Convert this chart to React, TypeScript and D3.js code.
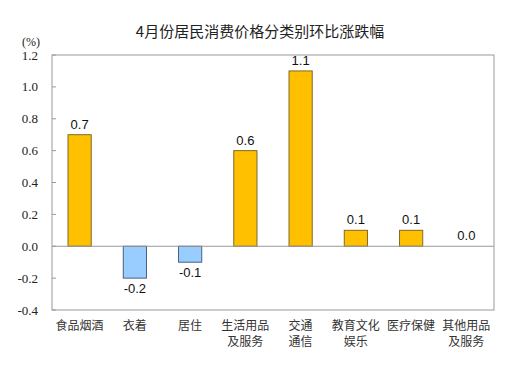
import React from "react";
import * as d3 from "d3";

const categories = ["食品烟酒", "衣着", "居住", "生活用品及服务", "交通通信", "教育文化娱乐", "医疗保健", "其他用品及服务"];
const categoryLines = [["食品烟酒"], ["衣着"], ["居住"], ["生活用品", "及服务"], ["交通", "通信"], ["教育文化", "娱乐"], ["医疗保健"], ["其他用品", "及服务"]];
const values = [0.7, -0.2, -0.1, 0.6, 1.1, 0.1, 0.1, 0.0];
const yTicks = [-0.4, -0.2, 0.0, 0.2, 0.4, 0.6, 0.8, 1.0, 1.2];
const title = "4月份居民消费价格分类别环比涨跌幅";

export default function App() {
  const W = 529, H = 378;
  const left = 52, right = 494, top = 55, bottom = 310;
  const x = d3.scaleBand<string>().domain(categories).range([left, right]).paddingInner(0.58).paddingOuter(0.29);
  const y = d3.scaleLinear().domain([-0.4, 1.2]).range([bottom, top]);
  const sans = "'Liberation Sans', Arial, sans-serif";
  const cjk = "'Noto Sans CJK SC', sans-serif";
  const serif = "'Liberation Serif', 'Times New Roman', serif";
  return (
    <svg width={W} height={H} style={{ position: "absolute", left: 0, top: 0, background: "#fff" }}>
      <rect x={0} y={0} width={W} height={H} fill="#fff" />
      <text x={260} y={37} textAnchor="middle" fontFamily={cjk} fontSize={15} fill="#222">{title}</text>
      <text x={22} y={46} fontFamily={serif} fontSize={12} fill="#222">(%)</text>
      <rect x={left} y={top} width={right - left} height={bottom - top} fill="none" stroke="#999" strokeWidth={1} />
      {yTicks.map((t) => (
        <g key={t}>
          <line x1={left} x2={left + 4} y1={y(t)} y2={y(t)} stroke="#999" />
          <text x={38} y={y(t) + 4.5} textAnchor="end" fontFamily={serif} fontSize={13} fill="#222">{t.toFixed(1)}</text>
        </g>
      ))}
      {categories.map((c, i) => {
        const v = values[i];
        const bx = x(c)!;
        const bw = x.bandwidth();
        const y0 = y(0), y1 = y(v);
        const pos = v >= 0;
        return (
          <g key={c}>
            {v !== 0 && (
              <rect x={bx} y={Math.min(y0, y1)} width={bw} height={Math.abs(y1 - y0)}
                fill={pos ? "#FFC000" : "#99CCFF"} stroke={pos ? "#7F6A2A" : "#4A6080"} strokeWidth={1} />
            )}
            <text x={bx + bw / 2} y={pos ? y1 - 6 : y1 + 15} textAnchor="middle" fontFamily={sans} fontSize={13} fill="#111">{v.toFixed(1)}</text>
            {categoryLines[i].map((ln, j) => (
              <text key={j} x={bx + bw / 2} y={330 + j * 16} textAnchor="middle" fontFamily={cjk} fontSize={12} fill="#333">{ln}</text>
            ))}
          </g>
        );
      })}
      <line x1={left} x2={right} y1={y(0)} y2={y(0)} stroke="#999" strokeWidth={1} />
    </svg>
  );
}
